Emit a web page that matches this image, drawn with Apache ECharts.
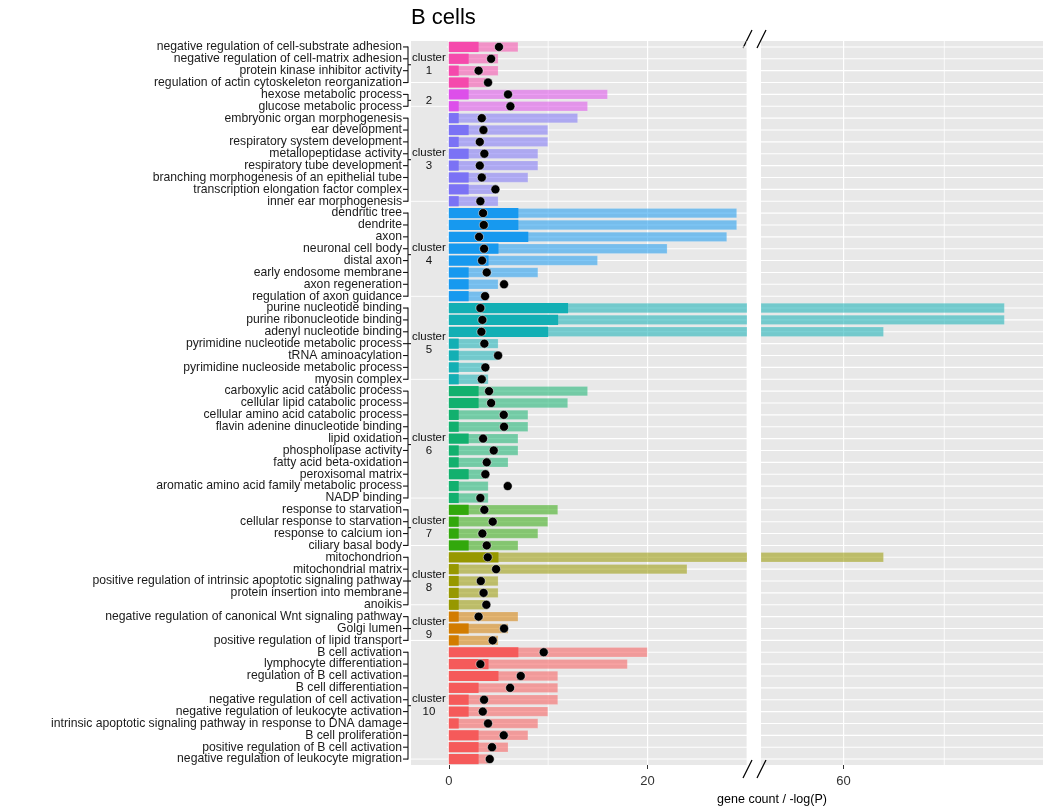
<!DOCTYPE html>
<html><head><meta charset="utf-8">
<script src="https://cdn.jsdelivr.net/npm/echarts@6/dist/echarts.min.js"></script>
<style>html,body{margin:0;padding:0;background:#fff}#chart{width:1050px;height:812px}</style>
</head><body><div id="chart"></div>
<script>
const categories = [
 'negative regulation of cell-substrate adhesion','negative regulation of cell-matrix adhesion','protein kinase inhibitor activity','regulation of actin cytoskeleton reorganization',
 'hexose metabolic process','glucose metabolic process',
 'embryonic organ morphogenesis','ear development','respiratory system development','metallopeptidase activity','respiratory tube development','branching morphogenesis of an epithelial tube','transcription elongation factor complex','inner ear morphogenesis',
 'dendritic tree','dendrite','axon','neuronal cell body','distal axon','early endosome membrane','axon regeneration','regulation of axon guidance',
 'purine nucleotide binding','purine ribonucleotide binding','adenyl nucleotide binding','pyrimidine nucleotide metabolic process','tRNA aminoacylation','pyrimidine nucleoside metabolic process','myosin complex',
 'carboxylic acid catabolic process','cellular lipid catabolic process','cellular amino acid catabolic process','flavin adenine dinucleotide binding','lipid oxidation','phospholipase activity','fatty acid beta-oxidation','peroxisomal matrix','aromatic amino acid family metabolic process','NADP binding',
 'response to starvation','cellular response to starvation','response to calcium ion','ciliary basal body',
 'mitochondrion','mitochondrial matrix','positive regulation of intrinsic apoptotic signaling pathway','protein insertion into membrane','anoikis',
 'negative regulation of canonical Wnt signaling pathway','Golgi lumen','positive regulation of lipid transport',
 'B cell activation','lymphocyte differentiation','regulation of B cell activation','B cell differentiation','negative regulation of cell activation','negative regulation of leukocyte activation','intrinsic apoptotic signaling pathway in response to DNA damage','B cell proliferation','positive regulation of B cell activation','negative regulation of leukocyte migration'
];
const clusterSizes = [4,2,8,8,7,10,4,5,3,10];
const clusterLabels = ['cluster\n1','2','cluster\n3','cluster\n4','cluster\n5','cluster\n6','cluster\n7','cluster\n8','cluster\n9','cluster\n10'];
const clusterColors = ['#F54AAC','#DD4FEA','#7B72F5','#1799EF','#13AFB4','#12B06E','#32A80C','#979800','#D27C00','#F55A5A'];
const darkValues = [3,2,1,2, 2,1, 1,2,1,2,1,2,2,1, 7,7,8,5,4,2,2,2, 12,11,10,1,1,1,1, 3,3,1,1,2,1,1,2,1,1, 2,1,1,2, 5,1,1,1,1, 1,2,1, 7,4,5,3,2,2,1,3,3,3];
const lightValues = [7,5,5,4, 16,14, 13,10,10,9,9,8,5,5, 29,29,28,22,15,9,5,4, 76,76,64,5,5,4,4, 14,12,8,8,7,7,6,4,4,4, 11,10,9,7, 64,24,5,5,4, 7,6,5, 20,18,11,11,11,10,9,8,6,4];
const dotValues = [5.05,4.26,3.0,3.95, 5.96,6.2, 3.32,3.49,3.12,3.58,3.12,3.32,4.69,3.18, 3.45,3.52,3.05,3.55,3.35,3.82,5.56,3.65, 3.18,3.38,3.28,3.58,4.96,3.68,3.32, 4.05,4.26,5.53,5.56,3.45,4.52,3.82,3.68,5.93,3.18, 3.58,4.42,3.38,3.82, 3.92,4.76,3.22,3.5,3.78, 3.0,5.56,4.42, 9.55,3.18,7.24,6.17,3.55,3.42,3.95,5.53,4.35,4.12];
const leftTickLabels = [0,20];
const rightTickLabels = [60];
const leftGridLines = [0,10,20,30];
const rightGridLines = [60,70];
const majorLines = [0,20,60];

const rowCluster = [];
clusterSizes.forEach((n,k)=>{for(let i=0;i<n;i++) rowCluster.push(k);});
const clusterStart = [], clusterEnd = [];
let acc = 0;
clusterSizes.forEach(n=>{clusterStart.push(acc); clusterEnd.push(acc+n-1); acc+=n;});

const FONT = '"Liberation Sans", Arial, Helvetica, sans-serif';
const PANEL = '#E8E8E8';

function hLines(params, api){
  const cs = params.coordSys;
  const y = api.coord([0, params.dataIndex])[1];
  return {type:'line', silent:true, shape:{x1:cs.x, y1:y, x2:cs.x+cs.width, y2:y}, style:{stroke:'#fff', lineWidth:1.1}};
}
function vLinesFactory(vals){
  return function(params, api){
    const cs = params.coordSys;
    const v = vals[params.dataIndex];
    const x = api.coord([v, 0])[0];
    return {type:'line', silent:true, shape:{x1:x, y1:cs.y, x2:x, y2:cs.y+cs.height}, style:{stroke:'#fff', lineWidth: majorLines.includes(v)?1.2:0.8}};
  };
}
function clusterRects(params, api){
  const cs = params.coordSys;
  const k = params.dataIndex;
  const band = api.size([0,1])[1];
  const yTop = k===0 ? cs.y : api.coord([0, clusterStart[k]])[1] - 0.25*band;
  const yBot = api.coord([0, clusterEnd[k]])[1] - 0.06*band;
  const xR = api.coord([-0.2, 0])[0];
  const cy = (api.coord([0, clusterStart[k]])[1] + api.coord([0, clusterEnd[k]])[1]) / 2;
  return {type:'group', children:[
    {type:'rect', shape:{x:cs.x, y:yTop, width:xR-cs.x, height:yBot-yTop}, style:{fill:PANEL}},
    {type:'text', x:(cs.x+xR)/2, y:cy, style:{text:clusterLabels[k], fill:'#111', fontSize:11.5, fontFamily:FONT, align:'center', verticalAlign:'middle', lineHeight:13}}
  ]};
}
function brackets(params, api){
  const cs = params.coordSys;
  const k = params.dataIndex;
  const xv = cs.x - 3;
  const y1 = api.coord([0, clusterStart[k]])[1];
  const y2 = api.coord([0, clusterEnd[k]])[1];
  const st = {stroke:'#111', lineWidth:1.1};
  const ch = [{type:'line', shape:{x1:xv, y1:y1-0.5, x2:xv, y2:y2+0.5}, style:st},
              {type:'line', shape:{x1:xv, y1:(y1+y2)/2, x2:xv+3, y2:(y1+y2)/2}, style:st}];
  for(let r=clusterStart[k]; r<=clusterEnd[k]; r++){
    const y = api.coord([0, r])[1];
    ch.push({type:'line', shape:{x1:xv-5, y1:y, x2:xv, y2:y}, style:st});
  }
  return {type:'group', children:ch};
}

const darkData = darkValues.map((v,i)=>({value:v, itemStyle:{color:clusterColors[rowCluster[i]]}}));
const lightData = lightValues.map((v,i)=>({value:v, itemStyle:{color:clusterColors[rowCluster[i]], opacity:0.55, borderColor:'rgba(255,255,255,0.35)', borderWidth:0.8}}));
const rowIdx = categories.map((c,i)=>[0,i]);
const clusterIdx = clusterSizes.map((n,k)=>[0,k]);

const chart = echarts.init(document.getElementById('chart'), null, {renderer:'canvas'});
chart.setOption({
  animation:false,
  backgroundColor:'#fff',
  textStyle:{fontFamily:FONT},
  grid:[
    {left:411, top:41, width:336, height:724, show:true, backgroundColor:PANEL, borderWidth:0},
    {left:761, top:41, width:282, height:724, show:true, backgroundColor:PANEL, borderWidth:0}
  ],
  xAxis:[
    {type:'value', gridIndex:0, min:-3.8, max:30, splitLine:{show:false}, axisLine:{show:false},
     axisTick:{show:true, customValues:leftTickLabels, length:4, lineStyle:{color:'#333'}},
     axisLabel:{customValues:leftTickLabels, color:'#333', fontSize:13, margin:10, fontFamily:FONT}},
    {type:'value', gridIndex:1, min:51.8, max:79.8, splitLine:{show:false}, axisLine:{show:false},
     axisTick:{show:true, customValues:rightTickLabels, length:4, lineStyle:{color:'#333'}},
     axisLabel:{customValues:rightTickLabels, color:'#333', fontSize:13, margin:10, fontFamily:FONT}}
  ],
  yAxis:[
    {type:'category', gridIndex:0, data:categories, inverse:true, axisLine:{show:false}, axisTick:{show:false}, splitLine:{show:false},
     axisLabel:{interval:0, fontSize:12.2, color:'#1a1a1a', margin:9, fontFamily:FONT}},
    {type:'category', gridIndex:1, data:categories, inverse:true, axisLine:{show:false}, axisTick:{show:false}, splitLine:{show:false}, axisLabel:{show:false}}
  ],
  series:[
    {type:'custom', xAxisIndex:0, yAxisIndex:0, data:rowIdx, renderItem:hLines, z:1, silent:true},
    {type:'custom', xAxisIndex:0, yAxisIndex:0, data:leftGridLines.map(v=>[v,0]), renderItem:vLinesFactory(leftGridLines), z:1, silent:true},
    {type:'custom', xAxisIndex:0, yAxisIndex:0, data:clusterIdx, renderItem:clusterRects, z:2, silent:true},
    {type:'bar', xAxisIndex:0, yAxisIndex:0, data:lightData, barWidth:'86%', barGap:'-100%', z:3, silent:true},
    {type:'bar', xAxisIndex:0, yAxisIndex:0, data:darkData, barWidth:'86%', barGap:'-100%', z:4, silent:true},
    {type:'scatter', xAxisIndex:0, yAxisIndex:0, data:dotValues.map((v,i)=>[v,i]), symbolSize:9, itemStyle:{color:'#000', borderColor:'#fff', borderWidth:0.5, opacity:1}, z:5, silent:true},
    {type:'custom', xAxisIndex:0, yAxisIndex:0, data:clusterIdx, renderItem:brackets, clip:false, z:6, silent:true},
    {type:'custom', xAxisIndex:1, yAxisIndex:1, data:rowIdx, renderItem:hLines, z:1, silent:true},
    {type:'custom', xAxisIndex:1, yAxisIndex:1, data:rightGridLines.map(v=>[v,0]), renderItem:vLinesFactory(rightGridLines), z:1, silent:true},
    {type:'bar', xAxisIndex:1, yAxisIndex:1, data:lightData, barWidth:'86%', z:3, silent:true}
  ],
  graphic:[
    {type:'text', x:411, y:18, style:{text:'B cells', fontSize:22, fill:'#000', fontFamily:FONT, verticalAlign:'middle'}},
    {type:'text', x:772, y:800, style:{text:'gene count / -log(P)', fontSize:12.5, fill:'#000', fontFamily:FONT, align:'center', verticalAlign:'middle'}},
    {type:'line', shape:{x1:743, y1:48, x2:752, y2:30}, style:{stroke:'#000', lineWidth:1.2}},
    {type:'line', shape:{x1:757, y1:48, x2:766, y2:30}, style:{stroke:'#000', lineWidth:1.2}},
    {type:'line', shape:{x1:743, y1:778, x2:752, y2:760}, style:{stroke:'#000', lineWidth:1.2}},
    {type:'line', shape:{x1:757, y1:778, x2:766, y2:760}, style:{stroke:'#000', lineWidth:1.2}}
  ]
});
</script></body></html>
